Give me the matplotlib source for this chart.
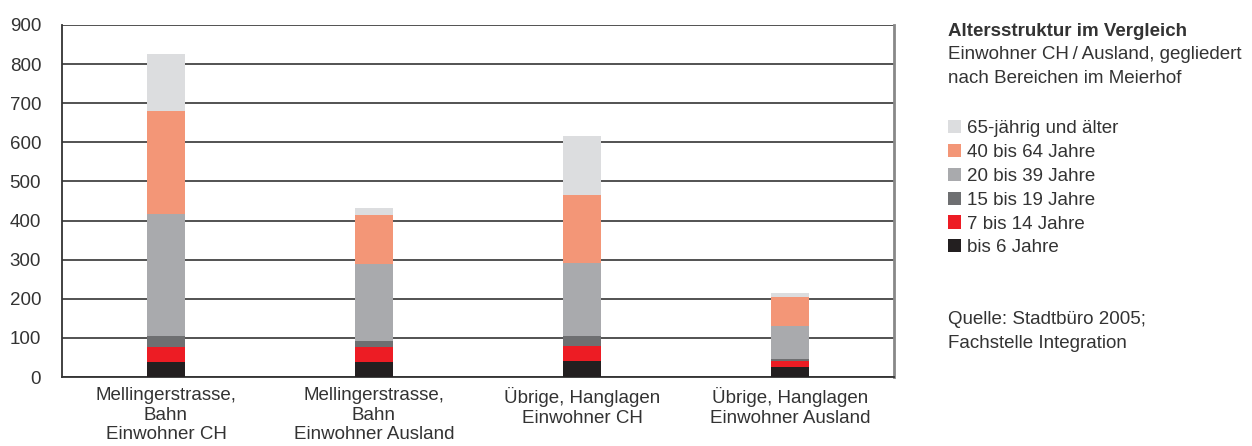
import numpy as np
import matplotlib.pyplot as plt
from matplotlib.patches import Patch

plt.rcParams['font.family'] = ['Liberation Sans', 'DejaVu Sans']

# Bereiche und Altersgruppen
bereiche = ['Mellingerstrasse,\nBahn\nEinwohner CH',
            'Mellingerstrasse,\nBahn\nEinwohner Ausland',
            'Übrige, Hanglagen\nEinwohner CH',
            'Übrige, Hanglagen\nEinwohner Ausland']
gruppen = ['bis 6 Jahre', '7 bis 14 Jahre', '15 bis 19 Jahre',
           '20 bis 39 Jahre', '40 bis 64 Jahre', '65-jährig und älter']

bis_6 = [39, 39, 42, 26]
bis_14 = [38, 38, 38, 14]
bis_19 = [28, 15, 25, 7]
bis_39 = [311, 197, 186, 84]
bis_64 = [264, 124, 175, 73]
ab_65 = [146, 20, 151, 10]

farben = ['#231f20', '#ed1c24', '#6e6f71', '#a9aaad', '#f39677', '#dcdddf']
txt = '#333333'
fs = 13.5

fig = plt.figure(figsize=(12.52, 4.46), dpi=100)
ax = fig.add_axes([0.0495, 0.1547, 0.6645, 0.7893])

x = np.arange(len(bereiche))
unten = np.zeros(len(bereiche))
for werte, farbe in zip([bis_6, bis_14, bis_19, bis_39, bis_64, ab_65], farben):
    ax.bar(x, werte, width=0.183, bottom=unten, color=farbe, zorder=3)
    unten += np.array(werte)

ax.set_xlim(-0.5, 3.5)
ax.set_ylim(0, 900)
ax.set_yticks(range(0, 901, 100))
ax.yaxis.grid(True, color='#444444', linewidth=1.3, zorder=1)
ax.set_axisbelow(True)
ax.tick_params(axis='both', length=0, labelsize=fs, labelcolor=txt)
ax.tick_params(axis='y', pad=15)
ax.tick_params(axis='x', pad=7)
ax.set_xticks(x)
ax.set_xticklabels(bereiche, linespacing=1.22)
for s in ['left', 'bottom']:
    ax.spines[s].set_color('#333333')
    ax.spines[s].set_linewidth(1.3)
ax.spines['top'].set_visible(False)
ax.spines['right'].set_color('#888888')
ax.spines['right'].set_linewidth(2)

# Titel und Legende rechts
fig.text(0.757, 0.930, 'Altersstruktur im Vergleich', fontsize=fs,
         fontweight='bold', color=txt, va='center')
fig.text(0.757, 0.877, 'Einwohner CH\u2009/\u2009Ausland, gegliedert', fontsize=fs,
         color=txt, va='center')
fig.text(0.757, 0.823, 'nach Bereichen im Meierhof', fontsize=fs,
         color=txt, va='center')

handles = [Patch(facecolor=f, edgecolor='none') for f in farben][::-1]
fig.legend(handles, gruppen[::-1], loc='upper left',
           bbox_to_anchor=(0.751, 0.748), frameon=False, fontsize=fs,
           handlelength=0.7, handleheight=0.7, handletextpad=0.35,
           labelspacing=0.36, borderaxespad=0, labelcolor=txt)

fig.text(0.757, 0.283, 'Quelle: Stadtbüro 2005;', fontsize=fs,
         color=txt, va='center')
fig.text(0.757, 0.229, 'Fachstelle Integration', fontsize=fs,
         color=txt, va='center')

fig.savefig('out.png', dpi=100, facecolor='white')
